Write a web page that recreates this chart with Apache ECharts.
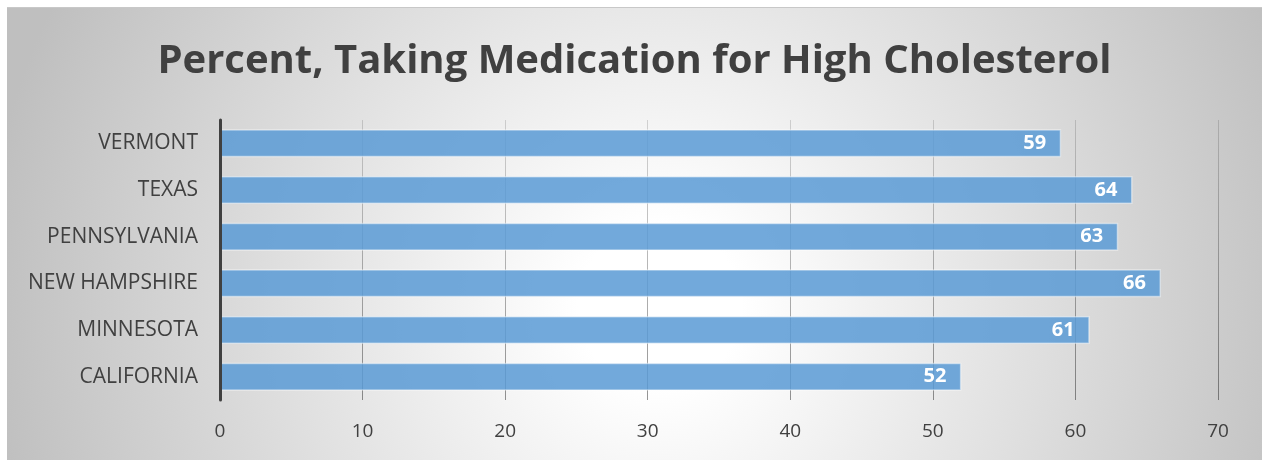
<!DOCTYPE html>
<html>
<head>
<meta charset="utf-8">
<script src="https://cdn.jsdelivr.net/npm/echarts@6/dist/echarts.min.js"></script>
<style>
  html, body { margin: 0; padding: 0; background: #ffffff; }
  #frame { position: absolute; left: 7px; top: 7px; width: 1255px; height: 453px; border-top: 1px solid #c8c8c8; box-sizing: border-box; }
  #chart { width: 100%; height: 100%; }
</style>
</head>
<body>
<div id="frame"><div id="chart"></div></div>
<script>
// States, listed top to bottom
const states = ['VERMONT', 'TEXAS', 'PENNSYLVANIA', 'NEW HAMPSHIRE', 'MINNESOTA', 'CALIFORNIA'];
// Percent of adults taking medication for high cholesterol
const percentValues = [59, 64, 63, 66, 61, 52];
// Value axis range and step
const axisMin = 0;
const axisMax = 70;
const axisStep = 10;

const chart = echarts.init(document.getElementById('chart'), null, { renderer: 'canvas' });

chart.setOption({
  backgroundColor: {
    type: 'radial', x: 0.52, y: 0.66, r: 1.5,
    colorStops: [
      { offset: 0, color: '#ffffff' },
      { offset: 0.12, color: '#ffffff' },
      { offset: 1, color: '#bfbfbf' }
    ]
  },
  title: {
    text: 'Percent, Taking Medication for High Cholesterol',
    left: 'center',
    top: 29,
    textStyle: { fontFamily: 'Open Sans', fontWeight: 'bold', fontSize: 40, color: '#404040' }
  },
  grid: { left: 213, right: 44, top: 112, bottom: 60, containLabel: false },
  xAxis: {
    type: 'value',
    min: axisMin, max: axisMax, interval: axisStep,
    axisLine: { show: false },
    axisTick: { show: false },
    axisLabel: { fontFamily: 'Open Sans', fontSize: 19, color: '#404040', margin: 22 },
    splitLine: {
      show: true,
      lineStyle: {
        width: 1,
        color: {
          type: 'linear', x: 0, y: 0, x2: 0, y2: 1,
          colorStops: [
            { offset: 0, color: 'rgba(0,0,0,0.14)' },
            { offset: 1, color: 'rgba(0,0,0,0.42)' }
          ]
        }
      }
    }
  },
  yAxis: {
    type: 'category',
    data: states,
    inverse: true,
    z: 5,
    axisLine: { show: true, lineStyle: { color: '#404040', width: 3 } },
    axisTick: { show: false },
    axisLabel: { fontFamily: 'Open Sans', fontSize: 21, color: '#404040', margin: 22 },
    splitLine: { show: false }
  },
  series: [{
    type: 'bar',
    data: percentValues,
    barCategoryGap: '40%',
    itemStyle: {
      color: 'rgba(91,155,213,0.86)',
      borderColor: 'rgba(255,255,255,0.45)',
      borderWidth: 1.5
    },
    label: {
      show: true,
      position: 'insideRight',
      distance: 15,
      fontFamily: 'Open Sans',
      fontWeight: 'bold',
      fontSize: 20,
      color: '#ffffff'
    },
    silent: true,
    animation: false
  }],
  animation: false
});
</script>
</body>
</html>
